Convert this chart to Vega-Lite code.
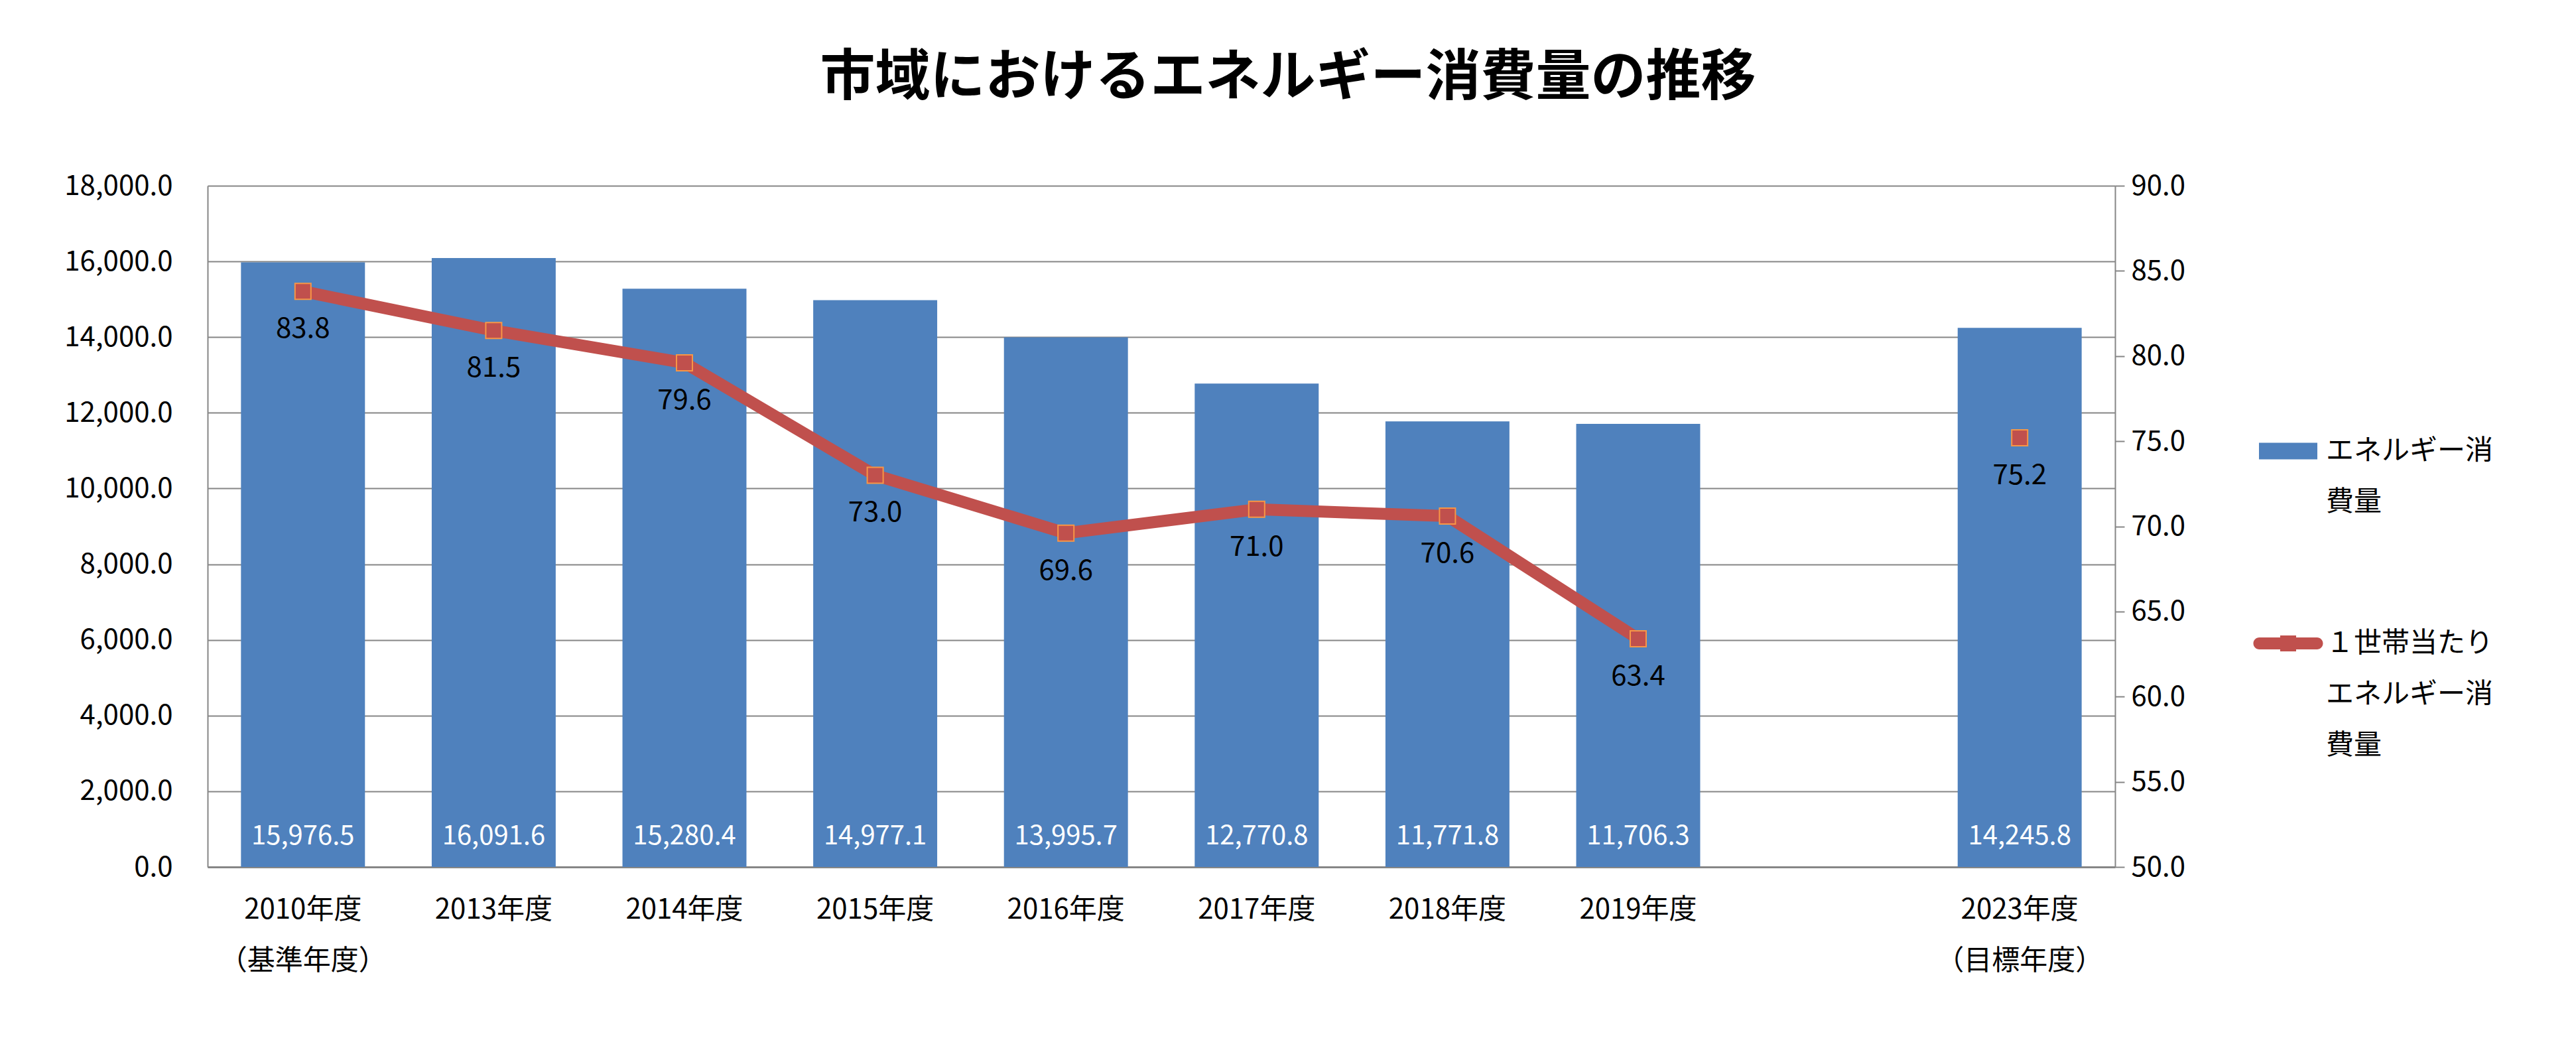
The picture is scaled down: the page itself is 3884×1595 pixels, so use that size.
{
  "$schema": "https://vega.github.io/schema/vega-lite/v6.json",
  "autosize": {"type": "none"},
  "width": 2876,
  "height": 1027,
  "padding": {"left": 313, "top": 280, "right": 695, "bottom": 288},
  "background": "white",
  "title": {
    "text": "市域におけるエネルギー消費量の推移",
    "font": "Noto Sans CJK JP",
    "fontSize": 83,
    "fontWeight": "bold",
    "color": "black",
    "anchor": "middle",
    "frame": "group",
    "dx": 191,
    "offset": 99
  },
  "data": {
    "values": [
      {"year": "2010年度|（基準年度）", "energy": 15976.5, "perHousehold": 83.8},
      {"year": "2013年度", "energy": 16091.6, "perHousehold": 81.5},
      {"year": "2014年度", "energy": 15280.4, "perHousehold": 79.6},
      {"year": "2015年度", "energy": 14977.1, "perHousehold": 73.0},
      {"year": "2016年度", "energy": 13995.7, "perHousehold": 69.6},
      {"year": "2017年度", "energy": 12770.8, "perHousehold": 71.0},
      {"year": "2018年度", "energy": 11771.8, "perHousehold": 70.6},
      {"year": "2019年度", "energy": 11706.3, "perHousehold": 63.4},
      {"year": "2023年度|（目標年度）", "energy": 14245.8, "perHousehold": 75.2}
    ]
  },
  "config": {
    "font": "Noto Sans CJK JP",
    "view": {"stroke": null},
    "axis": {
      "labelFont": "Noto Sans CJK JP",
      "labelFontSize": 42,
      "labelColor": "black",
      "labelLimit": 2000,
      "title": null,
      "domainColor": "#868686",
      "gridColor": "#868686",
      "tickColor": "#868686"
    },
    "legend": {
      "labelFont": "Noto Sans CJK JP",
      "labelFontSize": 42,
      "labelColor": "black"
    }
  },
  "encoding": {
    "x": {
      "field": "year",
      "type": "nominal",
      "sort": null,
      "scale": {
        "domain": ["2010年度|（基準年度）", "2013年度", "2014年度", "2015年度", "2016年度", "2017年度", "2018年度", "2019年度", " ", "2023年度|（目標年度）"],
        "paddingInner": 0.35,
        "paddingOuter": 0.175
      },
      "axis": {
        "orient": "bottom",
        "labelAngle": 0,
        "labelExpr": "split(datum.label, '|')",
        "labelBaseline": "top",
        "labelLineHeight": 77,
        "labelPadding": 44,
        "labelLimit": 2000,
        "ticks": false,
        "domainWidth": 3,
        "grid": false,
        "title": null
      }
    }
  },
  "layer": [
    {
      "encoding": {
        "y": {
          "field": "energy",
          "type": "quantitative",
          "scale": {"domain": [0, 18000], "nice": false},
          "axis": {
            "orient": "left",
            "values": [0, 2000, 4000, 6000, 8000, 10000, 12000, 14000, 16000, 18000],
            "format": ",.1f",
            "grid": true,
            "gridWidth": 2,
            "domainWidth": 2,
            "ticks": false,
            "labelPadding": 53,
            "title": null
          }
        }
      },
      "layer": [
        {
          "mark": {"type": "bar"},
          "encoding": {
            "fill": {
              "datum": "エネルギー消|費量",
              "type": "nominal",
              "scale": {"range": ["#4F81BD"]},
              "legend": {
                "orient": "none",
                "legendX": 3087,
                "legendY": 350,
                "padding": 0,
                "title": null,
                "labelExpr": "split(datum.label, '|')",
                "labelBaseline": "middle",
                "labelOffset": 7,
                "labelLimit": 2000,
                "symbolType": "M-0.88,-0.25H0.88V0.25H-0.88Z",
                "symbolSize": 10000,
                "symbolStrokeWidth": 0,
                "encode": {
                  "labels": {"update": {"lineHeight": {"value": 77}}}
                }
              }
            }
          }
        },
        {
          "mark": {"type": "text", "color": "white", "fontSize": 40, "baseline": "middle", "align": "center", "dy": -46},
          "encoding": {
            "y": {"datum": 0},
            "text": {"field": "energy", "type": "quantitative", "format": ",.1f"}
          }
        }
      ]
    },
    {
      "encoding": {
        "y": {
          "field": "perHousehold",
          "type": "quantitative",
          "scale": {"domain": [50, 90], "nice": false},
          "axis": {
            "orient": "right",
            "values": [50, 55, 60, 65, 70, 75, 80, 85, 90],
            "format": ".1f",
            "grid": false,
            "ticks": true,
            "tickSize": 14,
            "tickWidth": 2,
            "domainWidth": 2,
            "labelPadding": 10,
            "title": null
          }
        }
      },
      "layer": [
        {
          "transform": [{"filter": "datum.year != '2023年度|（目標年度）'"}],
          "mark": {"type": "line", "strokeWidth": 18, "strokeCap": "round", "strokeJoin": "round"},
          "encoding": {
            "stroke": {
              "datum": "１世帯当たり|エネルギー消|費量",
              "type": "nominal",
              "scale": {"range": ["#C0504D"]},
              "legend": {
                "orient": "none",
                "legendX": 3087,
                "legendY": 640,
                "padding": 0,
                "title": null,
                "labelExpr": "split(datum.label, '|')",
                "labelBaseline": "middle",
                "labelOffset": 7,
                "labelLimit": 2000,
                "symbolType": "M-0.87,-0.18H0.87A0.18,0.18 0 0 1 0.87,0.18H-0.87A0.18,0.18 0 0 1 -0.87,-0.18Z M-0.24,-0.24H0.24V0.24H-0.24Z",
                "symbolSize": 10000,
                "symbolStrokeWidth": 0,
                "symbolFillColor": "#C0504D",
                "encode": {
                  "labels": {"update": {"lineHeight": {"value": 77}}},
                  "symbols": {"update": {"fill": {"value": "#C0504D"}, "strokeWidth": {"value": 0}}}
                }
              }
            }
          }
        },
        {
          "mark": {"type": "point", "shape": "square", "size": 576, "filled": true, "fill": "#C0504D", "stroke": "#F79646", "strokeWidth": 2, "opacity": 1}
        },
        {
          "mark": {"type": "text", "color": "black", "fontSize": 42, "baseline": "middle", "align": "center", "dy": 57},
          "encoding": {
            "text": {"field": "perHousehold", "type": "quantitative", "format": ".1f"}
          }
        }
      ]
    }
  ],
  "resolve": {"scale": {"y": "independent"}}
}
